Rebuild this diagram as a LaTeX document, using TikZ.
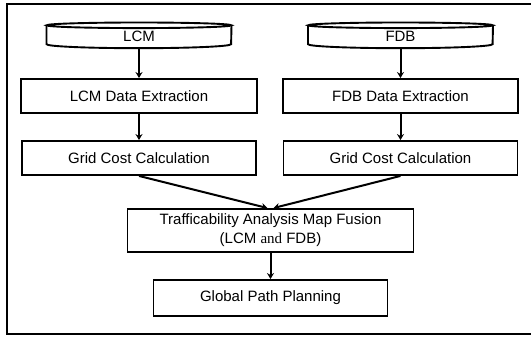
\documentclass[tikz,border=0pt]{standalone}
\usepackage{fontspec}
\setmainfont{Liberation Sans}
\newfontfamily\timesfont{Liberation Serif}
\usetikzlibrary{arrows.meta}
\tikzset{
  box/.style={draw, line width=1.9pt, inner sep=0pt, minimum height=34pt, align=center},
  dbase/.style={inner sep=0pt, minimum width=184.6pt, minimum height=22.5pt},
  flow/.style={->, line width=2pt},
}
\begin{document}
\begin{tikzpicture}[>={Stealth[length=6pt,width=7pt]}, x=1pt, y=1pt, font=\fontsize{15}{19}\selectfont]
\useasboundingbox (0,0) rectangle (531,337);
% outer frame, cut off on the right
\draw[line width=2.3pt] (531,332.8) -- (6.7,332.8) -- (6.7,3.3) -- (531,3.3);

\node[dbase] (lcm) at (139,300.25) {LCM};
\node[dbase] (fdb) at (400.5,300.25) {FDB};
\foreach \n in {lcm,fdb}
{
    \draw[line width=1.9pt] (\n.north) ellipse[x radius=92.3, y radius=2.8];
    \draw[line width=1.9pt] (\n.north west) -- ([yshift=4pt]\n.south west)
        arc[start angle=180, end angle=360, x radius=92.3, y radius=4] -- (\n.north east);
}

\node[box, minimum width=236pt] (lcmx) at (139,241) {LCM Data Extraction};
\node[box, minimum width=235pt] (fdbx) at (400.5,241) {FDB Data Extraction};
\node[box, minimum width=234pt] (lgrid) at (139,179) {Grid Cost Calculation};
\node[box, minimum width=234pt] (rgrid) at (400.5,179) {Grid Cost Calculation};
\node[box, minimum width=286pt, minimum height=43pt] (fusion) at (270.5,106.5)
    {Trafficability Analysis Map Fusion\\(LCM {\timesfont and} FDB)};
\node[box, minimum width=234pt, minimum height=36pt] (plan) at (270.5,39) {Global Path Planning};

\draw[flow] (lcm.south) -- (lcmx.north);
\draw[flow] (fdb.south) -- (fdbx.north);
\draw[flow] (lcmx.south) -- (lgrid.north);
\draw[flow] (fdbx.south) -- (rgrid.north);
\draw[flow] (lgrid.south) -- ([xshift=-3pt]fusion.north);
\draw[flow] (rgrid.south) -- ([xshift=3pt]fusion.north);
\draw[flow] (fusion.south) -- (plan.north);
\end{tikzpicture}
\end{document}
